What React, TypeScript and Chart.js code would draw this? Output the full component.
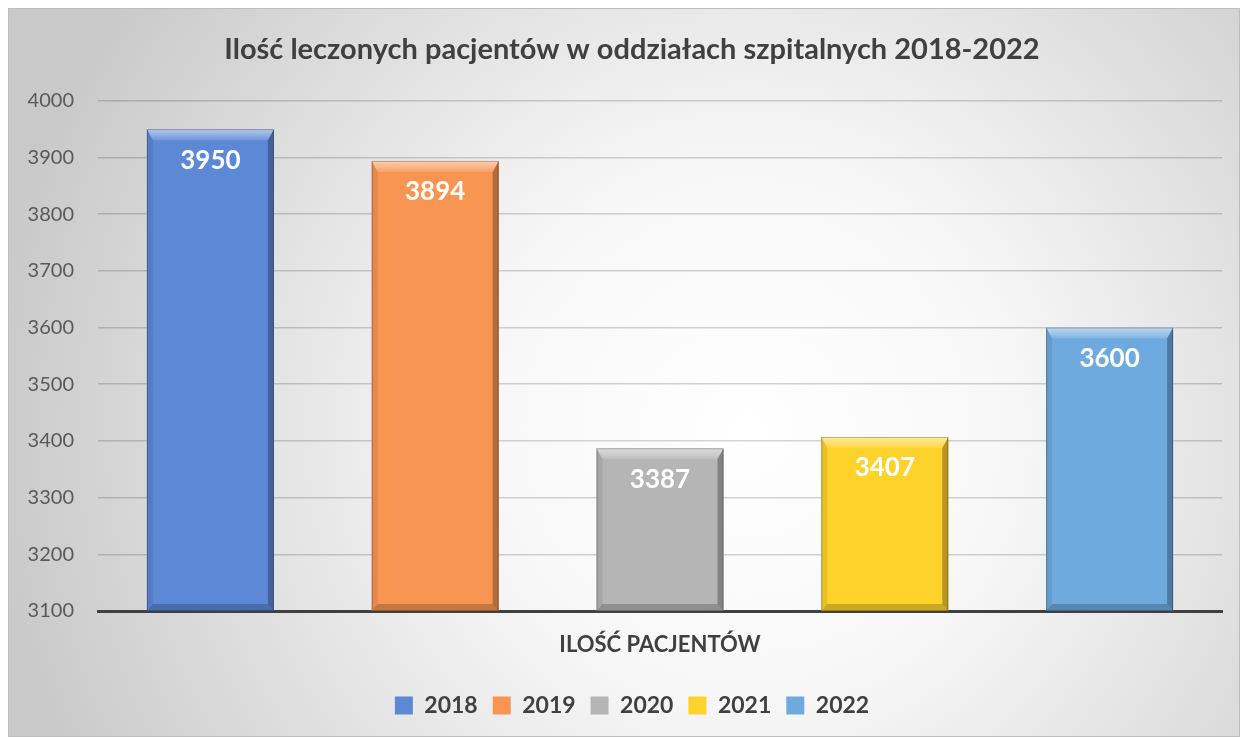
import React, { useEffect, useRef } from 'react';
import { Chart, registerables } from 'chart.js';

Chart.register(...registerables);

const titleText = 'Ilość leczonych pacjentów w oddziałach szpitalnych 2018-2022';
const categories = ['ILOŚĆ PACJENTÓW'];
const seriesLabels = ['2018', '2019', '2020', '2021', '2022'];
const seriesValues = [3950, 3894, 3387, 3407, 3600];
const seriesColors = ['#5d88d6', '#f89552', '#b5b5b5', '#fcd22b', '#6eaade'];
const yMin = 3100;
const yMax = 4000;
const yStep = 100;

const FONT = 'Lato, "Open Sans", sans-serif';

const backgroundPlugin = {
  id: 'bgGradient',
  beforeDraw(chart: any) {
    const { ctx, width, height } = chart;
    ctx.save();
    const g = ctx.createRadialGradient(width * 0.6, height * 0.58, 0, width * 0.6, height * 0.58, width * 0.62);
    g.addColorStop(0, '#ffffff');
    g.addColorStop(0.35, '#f7f7f7');
    g.addColorStop(1, '#c9c9c9');
    ctx.fillStyle = g;
    ctx.fillRect(0, 0, width, height);
    ctx.strokeStyle = '#bdbdbd';
    ctx.lineWidth = 1;
    ctx.strokeRect(0.5, 0.5, width - 1, height - 1);
    ctx.restore();
  },
};

// let the y tick labels use the whole left margin (no clipping)
const widenYLabelArea = {
  id: 'widenYLabelArea',
  afterLayout(chart: any) {
    if (chart.scales.y) chart.scales.y.left = 0;
  },
};

function poly(ctx: CanvasRenderingContext2D, pts: number[][], fill: string | CanvasGradient) {
  ctx.beginPath();
  ctx.moveTo(pts[0][0], pts[0][1]);
  for (let i = 1; i < pts.length; i++) ctx.lineTo(pts[i][0], pts[i][1]);
  ctx.closePath();
  ctx.fillStyle = fill;
  ctx.fill();
}

const bevelPlugin = {
  id: 'bevel',
  afterDatasetsDraw(chart: any) {
    const ctx = chart.ctx as CanvasRenderingContext2D;
    const area = chart.chartArea;
    ctx.save();
    ctx.beginPath();
    ctx.rect(area.left, area.top, area.right - area.left, area.bottom - area.top);
    ctx.clip();
    chart.data.datasets.forEach((_ds: any, i: number) => {
      const meta = chart.getDatasetMeta(i);
      meta.data.forEach((bar: any) => {
        const { x, y, base, width } = bar.getProps(['x', 'y', 'base', 'width'], true);
        const l = x - width / 2;
        const r = x + width / 2;
        const t = y;
        const b = Math.min(base, area.bottom);
        const st = 11;
        const ss = 6;
        const sb = 7;
        const tg = ctx.createLinearGradient(0, t, 0, t + st);
        tg.addColorStop(0, 'rgba(255,255,255,0.55)');
        tg.addColorStop(1, 'rgba(255,255,255,0.12)');
        poly(ctx, [[l, t], [r, t], [r - ss, t + st], [l + ss, t + st]], tg);
        poly(ctx, [[r, t], [r, b], [r - ss, b - sb], [r - ss, t + st]], 'rgba(0,0,0,0.28)');
        poly(ctx, [[l, b], [r, b], [r - ss, b - sb], [l + ss, b - sb]], 'rgba(0,0,0,0.2)');
        poly(ctx, [[l, t], [l, b], [l + ss, b - sb], [l + ss, t + st]], 'rgba(0,0,0,0.08)');
        ctx.strokeStyle = 'rgba(0,0,0,0.25)';
        ctx.lineWidth = 1;
        ctx.strokeRect(l + 0.5, t + 0.5, width - 1, b - t - 1);
      });
    });
    ctx.restore();
  },
};

const labelPlugin = {
  id: 'valueLabels',
  afterDraw(chart: any) {
    const ctx = chart.ctx as CanvasRenderingContext2D;
    ctx.save();
    ctx.font = `bold 26px ${FONT}`;
    ctx.fillStyle = '#ffffff';
    ctx.textAlign = 'center';
    ctx.textBaseline = 'middle';
    chart.data.datasets.forEach((ds: any, i: number) => {
      const meta = chart.getDatasetMeta(i);
      meta.data.forEach((bar: any, j: number) => {
        const { x, y } = bar.getProps(['x', 'y'], true);
        ctx.fillText(String(ds.data[j]), x, y + 31);
      });
    });
    ctx.restore();
  },
};

export default function App() {
  const ref = useRef<HTMLCanvasElement | null>(null);

  useEffect(() => {
    if (!ref.current) return;
    const chart = new Chart(ref.current, {
      type: 'bar',
      data: {
        labels: categories,
        datasets: seriesLabels.map((lab, i) => ({
          label: lab,
          data: [seriesValues[i]],
          backgroundColor: seriesColors[i],
          borderWidth: 0,
          categoryPercentage: 1,
          barPercentage: 0.565,
        })),
      },
      options: {
        responsive: false,
        animation: false,
        layout: { padding: { left: 34, right: 18, top: 0, bottom: 10 } },
        plugins: {
          title: {
            display: true,
            text: titleText,
            color: '#404040',
            font: { family: FONT, size: 29, weight: 'bold' },
            padding: { top: 24, bottom: 34 },
          },
          legend: {
            display: true,
            position: 'bottom',
            labels: {
              color: '#404040',
              font: { family: FONT, size: 23, weight: 'bold' },
              boxWidth: 18,
              boxHeight: 18,
              padding: 15,
            },
          },
          tooltip: { enabled: false },
        },
        scales: {
          x: {
            z: 2,
            grid: { display: false, drawTicks: false },
            border: { display: true, color: '#404040', width: 3 },
            ticks: {
              color: '#404040',
              font: { family: FONT, size: 22, weight: 'bold' },
              padding: 21,
            },
            afterFit(scale: any) {
              scale.height = 68;
            },
          },
          y: {
            min: yMin,
            max: yMax,
            z: 1,
            grid: { color: 'rgba(0,0,0,0.17)', lineWidth: 1.5, drawTicks: false },
            border: { display: false },
            ticks: {
              stepSize: yStep,
              color: '#595959',
              font: { family: FONT, size: 20 },
              padding: 24,
              callback: (v: any) => String(v),
            },
            afterFit(scale: any) {
              scale.width = 56;
            },
          },
        },
      },
      plugins: [backgroundPlugin, widenYLabelArea, bevelPlugin, labelPlugin],
    });
    return () => chart.destroy();
  }, []);

  return (
    <div style={{ position: 'fixed', left: 8, top: 8, width: 1232, height: 729 }}>
      <canvas ref={ref} width={1232} height={729} style={{ display: 'block' }} />
    </div>
  );
}
